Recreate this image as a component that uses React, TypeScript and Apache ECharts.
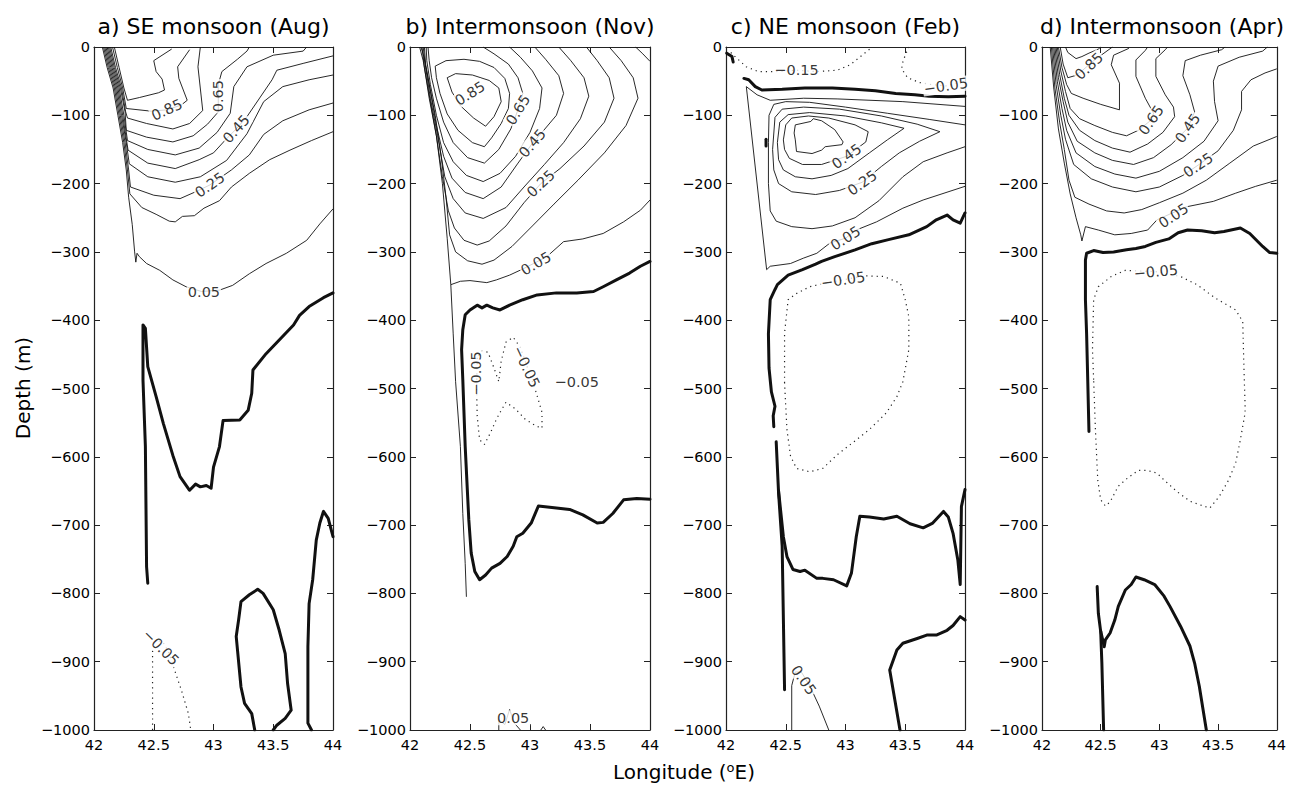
import React, { useEffect, useRef } from "react";
import * as echarts from "echarts";

type P = [number, number];

// ---------------- titles / ticks ----------------
const panelTitles = [
  "a) SE monsoon (Aug)",
  "b) Intermonsoon (Nov)",
  "c) NE monsoon (Feb)",
  "d) Intermonsoon (Apr)",
];
const lonMin = 42;
const lonMax = 44;
const lonStep = 0.5;
const depthMin = -1000;
const depthMax = 0;
const depthStep = 100;

// ---------------- panel a : SE monsoon (Aug) ----------------
const a095: P[] = [[42.17,0],[42.21,-30],[42.25,-60],[42.28,-78],[42.38,-74],[42.54,-67],[42.59,-63],[42.57,-47],[42.52,-36],[42.50,-20],[42.65,-3]];
const a085: P[] = [[42.155,0],[42.195,-30],[42.24,-60],[42.27,-90],[42.48,-94],[42.61,-92],[42.73,-85],[42.78,-78],[42.71,-46],[42.70,-29],[42.80,-4]];
const a075: P[] = [[42.14,0],[42.18,-30],[42.23,-60],[42.265,-95],[42.28,-104],[42.44,-112],[42.66,-120],[42.80,-112],[42.91,-93],[42.87,-29],[42.89,0]];
const a065: P[] = [[42.13,0],[42.17,-30],[42.22,-60],[42.26,-95],[42.27,-122],[42.44,-132],[42.66,-139],[42.83,-130],[42.95,-113],[43.04,-95],[43.04,-72],[43.04,-55],[43.07,-36],[43.20,-18],[43.28,-6],[43.30,0]];
const a055: P[] = [[42.12,0],[42.16,-30],[42.21,-60],[42.25,-100],[42.28,-137],[42.45,-150],[42.68,-158],[42.88,-148],[43.03,-125],[43.14,-97],[43.17,-58],[43.28,-29],[43.50,-12],[43.75,-6],[43.78,0]];
const a045: P[] = [[42.11,0],[42.15,-30],[42.20,-60],[42.24,-100],[42.285,-151],[42.45,-170],[42.68,-178],[42.88,-165],[43.00,-155],[43.10,-136],[43.19,-120],[43.28,-102],[43.49,-48],[43.53,-34],[43.75,-24],[44.0,-13]];
const a035: P[] = [[42.10,0],[42.14,-30],[42.19,-60],[42.23,-100],[42.27,-140],[42.295,-171],[42.45,-190],[42.68,-198],[42.89,-190],[43.11,-166],[43.28,-127],[43.42,-80],[43.58,-58],[43.80,-48],[44.0,-41]];
const a025: P[] = [[42.09,0],[42.13,-30],[42.18,-60],[42.22,-100],[42.26,-140],[42.29,-180],[42.305,-205],[42.50,-217],[42.72,-222],[42.85,-212],[42.97,-202],[43.15,-180],[43.30,-158],[43.42,-128],[43.58,-108],[43.80,-92],[44.0,-82]];
const a015: P[] = [[42.08,0],[42.12,-30],[42.17,-60],[42.21,-100],[42.25,-140],[42.28,-180],[42.30,-215],[42.40,-235],[42.52,-245],[42.63,-255],[42.68,-256],[42.74,-248],[42.84,-247],[42.92,-236],[43.05,-225],[43.15,-205],[43.30,-185],[43.47,-165],[43.64,-151],[43.82,-137],[44.0,-124]];
const a005: P[] = [[42.07,0],[42.11,-30],[42.16,-60],[42.20,-100],[42.24,-140],[42.27,-180],[42.29,-220],[42.32,-260],[42.34,-300],[42.35,-315],[42.36,-302],[42.38,-307],[42.44,-317],[42.55,-327],[42.66,-341],[42.77,-351],[42.90,-358],[43.05,-356],[43.16,-349],[43.30,-332],[43.44,-317],[43.61,-302],[43.78,-283],[43.89,-259],[44.0,-237]];
const aZero1: P[] = [[44.0,-360],[43.92,-367],[43.80,-380],[43.72,-393],[43.67,-407],[43.55,-429],[43.44,-449],[43.33,-473],[43.32,-507],[43.29,-532],[43.22,-546],[43.08,-547],[43.05,-585],[43.00,-615],[42.98,-646],[42.94,-642],[42.89,-644],[42.85,-640],[42.80,-649],[42.72,-629],[42.66,-598],[42.58,-551],[42.52,-512],[42.45,-468],[42.43,-412],[42.41,-407],[42.41,-444],[42.41,-488],[42.43,-585],[42.44,-761],[42.45,-785]];
const aZero2: P[] = [[43.345,-1000],[43.32,-976],[43.26,-961],[43.23,-937],[43.19,-863],[43.21,-839],[43.23,-812],[43.30,-802],[43.37,-794],[43.415,-800],[43.50,-824],[43.55,-854],[43.60,-888],[43.62,-932],[43.65,-971],[43.60,-983],[43.53,-993],[43.50,-1000]];
const aZero3: P[] = [[44.0,-717],[43.96,-690],[43.92,-680],[43.89,-697],[43.86,-722],[43.83,-780],[43.80,-815],[43.79,-878],[43.79,-990],[43.82,-1000]];
const aNeg1: P[] = [[42.49,-1000],[42.49,-927],[42.49,-885],[42.52,-868],[42.58,-872],[42.63,-888],[42.66,-905],[42.73,-941],[42.79,-976],[42.81,-1000]];
const aLabelText = ["0.85", "0.65", "0.45", "0.25", "0.05", "\u22120.05"];
const aLabelPos: P[] = [[42.61,-92],[43.04,-72],[43.19,-120],[42.97,-202],[42.92,-358],[42.56,-879]];
const aLabelRot = [24, 90, 48, 35, 0, -45];

// ---------------- panel b : Intermonsoon (Nov) ----------------
const b085: P[] = [[42.31,-45],[42.38,-39],[42.52,-41],[42.66,-49],[42.74,-60],[42.76,-80],[42.70,-102],[42.63,-116],[42.53,-104],[42.42,-86],[42.35,-66],[42.31,-45]];
const b075: P[] = [[42.21,-28],[42.30,-20],[42.45,-18],[42.58,-21],[42.70,-30],[42.79,-46],[42.83,-68],[42.82,-90],[42.76,-112],[42.68,-133],[42.62,-146],[42.52,-140],[42.40,-122],[42.31,-98],[42.25,-68],[42.22,-45],[42.21,-28]];
const b065: P[] = [[42.61,0],[42.70,-10],[42.82,-25],[42.90,-45],[42.94,-68],[42.90,-92],[42.84,-120],[42.74,-150],[42.62,-170],[42.48,-162],[42.36,-140],[42.28,-110],[42.22,-75],[42.18,-45],[42.16,-20],[42.15,0]];
const b055: P[] = [[42.83,0],[42.92,-15],[43.02,-35],[43.10,-60],[43.08,-90],[43.00,-125],[42.88,-160],[42.75,-185],[42.61,-197],[42.47,-188],[42.36,-168],[42.28,-140],[42.22,-100],[42.17,-55],[42.14,-20],[42.135,0]];
const b045: P[] = [[43.04,0],[43.13,-18],[43.24,-42],[43.28,-68],[43.22,-100],[43.10,-125],[43.02,-141],[42.90,-170],[42.76,-205],[42.61,-222],[42.46,-213],[42.35,-192],[42.28,-160],[42.22,-115],[42.17,-65],[42.13,-25],[42.12,0]];
const b035: P[] = [[43.24,0],[43.34,-20],[43.45,-45],[43.49,-72],[43.42,-105],[43.28,-140],[43.12,-172],[42.95,-205],[42.80,-235],[42.61,-251],[42.46,-243],[42.36,-222],[42.29,-190],[42.23,-130],[42.17,-75],[42.13,-30],[42.11,0]];
const b025: P[] = [[43.47,0],[43.56,-20],[43.66,-45],[43.70,-75],[43.62,-110],[43.45,-145],[43.25,-178],[43.09,-200],[42.95,-228],[42.80,-262],[42.66,-284],[42.56,-290],[42.45,-283],[42.37,-265],[42.32,-240],[42.27,-190],[42.22,-130],[42.16,-75],[42.12,-30],[42.10,0]];
const b015: P[] = [[43.66,0],[43.76,-20],[43.86,-45],[43.90,-75],[43.80,-115],[43.62,-155],[43.40,-195],[43.20,-230],[43.02,-262],[42.85,-292],[42.70,-312],[42.60,-318],[42.48,-313],[42.38,-300],[42.33,-275],[42.30,-220],[42.26,-160],[42.21,-100],[42.15,-45],[42.11,-10],[42.09,0]];
const b005: P[] = [[44.0,-224],[43.92,-239],[43.78,-256],[43.61,-273],[43.44,-281],[43.28,-285],[43.14,-307],[43.03,-317],[42.94,-325],[42.83,-334],[42.72,-341],[42.64,-345],[42.50,-342],[42.42,-343],[42.34,-348],[42.36,-420],[42.38,-490],[42.42,-585],[42.44,-683],[42.46,-756],[42.47,-805]];
const bSlope: P[] = [[42.34,-348],[42.31,-280],[42.27,-200],[42.22,-130],[42.16,-70],[42.11,-20],[42.08,0]];
const bCorner: P[] = [[43.88,0],[43.94,-10],[44.0,-21]];
const bBottom1: P[] = [[42.74,-1000],[42.74,-985],[42.79,-992],[42.83,-970],[42.87,-990],[42.92,-1000]];
const bBottom2: P[] = [[43.09,-1000],[43.11,-995],[43.13,-1000]];
const bZero1: P[] = [[44.0,-314],[43.92,-321],[43.83,-331],[43.72,-341],[43.61,-351],[43.53,-358],[43.39,-360],[43.22,-360],[43.06,-363],[42.94,-370],[42.83,-378],[42.75,-385],[42.69,-382],[42.64,-378],[42.60,-382],[42.56,-378],[42.50,-385],[42.46,-392],[42.44,-414],[42.43,-443],[42.44,-487],[42.46,-585],[42.49,-692],[42.51,-741],[42.54,-768],[42.58,-780],[42.63,-773],[42.68,-763],[42.75,-756],[42.81,-746],[42.86,-731],[42.89,-717],[42.94,-712],[43.01,-697],[43.07,-672],[43.22,-675],[43.33,-677],[43.44,-685],[43.56,-697],[43.61,-696],[43.69,-683],[43.78,-663],[43.89,-661],[44.0,-662]];
const bNeg1: P[] = [[42.56,-455],[42.555,-500],[42.56,-540],[42.58,-575],[42.62,-582],[42.67,-565],[42.72,-545],[42.76,-532],[42.80,-520],[42.88,-530],[42.96,-545],[43.05,-555],[43.10,-558],[43.10,-535],[43.05,-505],[42.98,-470],[42.92,-440],[42.86,-425],[42.80,-432],[42.76,-460],[42.74,-490],[42.70,-470],[42.65,-447],[42.60,-445],[42.56,-455]];
const bLabelText = ["0.85", "0.65", "0.45", "0.25", "0.05", "\u22120.05", "\u22120.05", "\u22120.05", "0.05"];
const bLabelPos: P[] = [[42.50,-68],[42.90,-92],[43.02,-141],[43.09,-200],[43.05,-317],[42.55,-478],[42.97,-468],[43.39,-490],[42.86,-982]];
const bLabelRot = [32, 58, 49, 43, 30, 90, -65, 0, 0];

// ---------------- panel c : NE monsoon (Feb) ----------------
const c055: P[] = [[42.57,-126],[42.58,-114],[42.71,-109],[42.73,-105],[42.80,-108],[42.91,-121],[42.98,-139],[42.97,-143],[42.83,-146],[42.80,-151],[42.72,-156],[42.59,-153],[42.58,-136],[42.57,-126]];
const c045: P[] = [[43.19,-124],[43.08,-114],[42.86,-104],[42.69,-101],[42.55,-104],[42.50,-114],[42.48,-136],[42.49,-150],[42.53,-163],[42.64,-172],[42.80,-172],[43.01,-160],[43.17,-139],[43.19,-124]];
const c035: P[] = [[43.49,-119],[43.30,-111],[43.0,-101],[42.70,-96],[42.52,-99],[42.45,-110],[42.43,-140],[42.44,-165],[42.48,-180],[42.58,-190],[42.72,-193],[42.88,-188],[43.02,-178],[43.20,-155],[43.35,-136],[43.49,-119]];
const c025: P[] = [[43.79,-124],[43.60,-113],[43.30,-101],[42.95,-91],[42.65,-88],[42.47,-91],[42.41,-103],[42.39,-150],[42.40,-180],[42.44,-200],[42.55,-212],[42.75,-216],[42.95,-210],[43.14,-198],[43.30,-175],[43.45,-155],[43.62,-138],[43.79,-124]];
const c015: P[] = [[44.0,-114],[43.70,-106],[43.35,-97],[43.0,-88],[42.70,-81],[42.50,-80],[42.40,-84],[42.36,-100],[42.355,-140],[42.355,-200],[42.37,-240],[42.42,-255],[42.55,-263],[42.72,-266],[42.89,-262],[43.08,-250],[43.28,-225],[43.48,-190],[43.65,-168],[43.85,-155],[44.0,-146]];
const c005: P[] = [[44.0,-87],[43.48,-80],[42.93,-76],[42.65,-75],[42.37,-78],[42.26,-70],[42.17,-58],[42.34,-326],[42.37,-321],[42.54,-317],[42.65,-309],[42.76,-302],[42.87,-287],[43.0,-280],[43.09,-268],[43.26,-256],[43.48,-236],[43.65,-224],[44.0,-204]];
const cBottom: P[] = [[42.55,-1000],[42.55,-935],[42.58,-915],[42.63,-915],[42.70,-935],[42.78,-965],[42.86,-1000]];
const cZero1: P[] = [[42.15,-46],[42.19,-48],[42.245,-58],[42.30,-63],[42.47,-62],[42.66,-60],[42.89,-60],[43.08,-62],[43.25,-64],[43.42,-68],[43.58,-70],[43.70,-72],[43.86,-73],[44.0,-72]];
const cZero2: P[] = [[42.006,-9],[42.05,-14],[42.06,-22]];
const cZero3: P[] = [[42.335,-135],[42.335,-145]];
const cZero4: P[] = [[44.0,-243],[43.96,-258],[43.90,-253],[43.85,-246],[43.76,-253],[43.68,-263],[43.53,-275],[43.36,-282],[43.22,-288],[43.08,-297],[42.91,-307],[42.80,-314],[42.75,-318],[42.64,-326],[42.52,-334],[42.43,-348],[42.41,-355],[42.37,-370],[42.355,-420],[42.36,-470],[42.38,-505],[42.41,-526],[42.395,-540],[42.40,-556]];
const cZero5: P[] = [[42.42,-578],[42.44,-653],[42.47,-731],[42.49,-941]];
const cZero6: P[] = [[42.44,-650],[42.48,-717],[42.51,-746],[42.56,-765],[42.62,-768],[42.66,-766],[42.76,-778],[42.81,-778],[42.90,-780],[43.01,-789],[43.05,-770],[43.09,-717],[43.12,-687],[43.20,-688],[43.32,-691],[43.43,-687],[43.54,-698],[43.65,-704],[43.73,-697],[43.82,-680],[43.86,-688],[43.90,-712],[43.94,-751],[43.96,-787],[43.97,-673],[44.0,-648]];
const cZero7: P[] = [[43.456,-1000],[43.37,-912],[43.43,-883],[43.48,-873],[43.60,-866],[43.68,-861],[43.76,-861],[43.85,-854],[43.90,-847],[43.96,-834],[44.0,-839]];
const cNeg015: P[] = [[42.04,-8],[42.075,-14],[42.17,-29],[42.27,-36],[42.42,-36],[42.59,-34],[42.76,-36],[42.93,-34],[43.04,-26],[43.14,-12],[43.21,-2]];
const cNegTop: P[] = [[43.53,0],[43.50,-12],[43.48,-22],[43.47,-32],[43.52,-45],[43.62,-52],[43.72,-55],[43.84,-57],[44.0,-50]];
const cNegLoop: P[] = [[42.49,-492],[42.49,-419],[42.52,-370],[42.59,-361],[42.70,-351],[42.85,-345],[42.98,-341],[43.15,-335],[43.32,-336],[43.46,-346],[43.50,-370],[43.53,-395],[43.53,-443],[43.48,-490],[43.43,-512],[43.34,-536],[43.20,-560],[43.07,-578],[42.93,-597],[42.81,-617],[42.70,-622],[42.59,-617],[42.54,-599],[42.51,-560],[42.49,-492]];
const cLabelText = ["\u22120.15", "\u22120.05", "0.45", "0.25", "0.05", "\u22120.05", "0.05"];
const cLabelPos: P[] = [[42.59,-34],[43.84,-57],[43.01,-160],[43.14,-199],[43.0,-280],[42.98,-341],[42.65,-927]];
const cLabelRot = [0, 8, 35, 35, 32, 8, -55];

// ---------------- panel d : Intermonsoon (Apr) ----------------
const d095: P[] = [[42.20,0],[42.22,-8],[42.29,-17],[42.34,-14],[42.40,-9],[42.48,-3],[42.50,0]];
const d085: P[] = [[42.155,0],[42.18,-25],[42.22,-45],[42.28,-42],[42.34,-35],[42.38,-29],[42.44,-20],[42.52,-10],[42.60,0]];
const d075: P[] = [[42.14,0],[42.17,-30],[42.21,-55],[42.25,-68],[42.35,-75],[42.50,-84],[42.66,-92],[42.66,-53],[42.59,-26],[42.61,-12],[42.74,-2]];
const d065: P[] = [[42.13,0],[42.16,-35],[42.20,-65],[42.24,-90],[42.32,-105],[42.45,-115],[42.60,-125],[42.72,-130],[42.82,-122],[42.93,-107],[42.95,-97],[42.88,-75],[42.80,-43],[42.80,-19],[42.88,-5],[42.90,0]];
const d055: P[] = [[42.12,0],[42.15,-40],[42.19,-75],[42.23,-100],[42.32,-122],[42.45,-137],[42.60,-148],[42.75,-154],[42.90,-142],[43.03,-125],[43.13,-102],[43.12,-88],[43.05,-70],[42.97,-43],[42.97,-17],[43.05,-4],[43.07,0]];
const d045: P[] = [[42.11,0],[42.14,-45],[42.18,-80],[42.22,-110],[42.30,-138],[42.45,-155],[42.60,-166],[42.78,-172],[42.95,-162],[43.10,-143],[43.24,-119],[43.30,-95],[43.26,-70],[43.20,-42],[43.22,-20],[43.35,-12],[43.53,-4],[43.56,0]];
const d035: P[] = [[42.10,0],[42.13,-50],[42.17,-90],[42.21,-122],[42.29,-155],[42.45,-175],[42.62,-186],[42.80,-192],[43.00,-182],[43.20,-162],[43.38,-138],[43.50,-108],[43.47,-80],[43.46,-50],[43.50,-28],[43.68,-15],[43.88,-6],[43.92,0]];
const d025: P[] = [[42.09,0],[42.12,-55],[42.16,-100],[42.20,-135],[42.27,-172],[42.42,-193],[42.60,-205],[42.80,-212],[43.00,-205],[43.20,-188],[43.33,-173],[43.50,-152],[43.63,-122],[43.70,-92],[43.70,-65],[43.78,-48],[43.90,-38],[44.0,-32]];
const d015: P[] = [[42.08,0],[42.11,-60],[42.15,-110],[42.19,-150],[42.23,-195],[42.28,-220],[42.40,-230],[42.55,-240],[42.70,-243],[42.85,-238],[43.00,-228],[43.20,-214],[43.40,-195],[43.60,-170],[43.80,-145],[44.0,-131]];
const d005: P[] = [[42.07,0],[42.10,-60],[42.14,-120],[42.19,-170],[42.24,-215],[42.29,-250],[42.33,-275],[42.34,-284],[42.37,-263],[42.48,-268],[42.62,-275],[42.76,-273],[42.90,-268],[42.98,-253],[43.11,-243],[43.23,-234],[43.46,-226],[43.65,-214],[43.82,-204],[44.0,-195]];
const dZero1: P[] = [[44.0,-302],[43.94,-301],[43.88,-292],[43.77,-273],[43.69,-265],[43.55,-270],[43.47,-272],[43.36,-269],[43.24,-268],[43.16,-272],[43.08,-281],[42.97,-286],[42.88,-292],[42.80,-295],[42.72,-297],[42.61,-300],[42.52,-301],[42.44,-298],[42.38,-302],[42.37,-312],[42.37,-370],[42.38,-420],[42.39,-490],[42.40,-563]];
const dZero2: P[] = [[42.47,-790],[42.48,-829],[42.50,-856],[42.51,-902],[42.525,-1000]];
const dZero3: P[] = [[42.50,-855],[42.53,-878],[42.54,-868],[42.58,-858],[42.62,-839],[42.65,-819],[42.71,-795],[42.76,-787],[42.80,-776],[42.87,-780],[42.96,-787],[43.04,-804],[43.09,-819],[43.18,-848],[43.26,-877],[43.30,-902],[43.34,-936],[43.40,-1000]];
const dNegLoop: P[] = [[42.44,-487],[42.43,-443],[42.44,-370],[42.48,-351],[42.59,-336],[42.71,-327],[42.97,-329],[43.18,-336],[43.32,-348],[43.48,-368],[43.65,-385],[43.71,-402],[43.72,-468],[43.73,-524],[43.73,-536],[43.69,-575],[43.65,-609],[43.59,-634],[43.51,-658],[43.43,-675],[43.34,-670],[43.26,-665],[43.15,-651],[43.04,-634],[42.98,-624],[42.90,-620],[42.82,-620],[42.73,-631],[42.65,-643],[42.58,-666],[42.54,-672],[42.50,-663],[42.475,-634],[42.455,-560],[42.44,-487]];
const dLabelText = ["0.85", "0.65", "0.45", "0.25", "0.05", "\u22120.05"];
const dLabelPos: P[] = [[42.40,-28],[42.93,-107],[43.24,-119],[43.33,-173],[43.12,-247],[42.97,-329]];
const dLabelRot = [43, 55, 55, 34, 33, 5];

// ---------------- layout ----------------
const gridLeft = [94, 410, 726, 1042];
const gridWidth = [239, 240, 239, 240];
const gridTop = 47;
const gridHeight = 683;

const FONT = "'DejaVu Sans', 'Liberation Sans', sans-serif";
const INK = "#000";

const panels = [
  {
    thin: [a095, a085, a075, a065, a055, a045, a035, a025, a015, a005],
    thick: [aZero1, aZero2, aZero3],
    dotted: [aNeg1],
    labels: { text: aLabelText, pos: aLabelPos, rot: aLabelRot },
  },
  {
    thin: [b085, b075, b065, b055, b045, b035, b025, b015, b005, bSlope, bCorner, bBottom1, bBottom2],
    thick: [bZero1],
    dotted: [bNeg1],
    labels: { text: bLabelText, pos: bLabelPos, rot: bLabelRot },
  },
  {
    thin: [c055, c045, c035, c025, c015, c005, cBottom],
    thick: [cZero1, cZero2, cZero3, cZero4, cZero5, cZero6, cZero7],
    dotted: [cNeg015, cNegTop, cNegLoop],
    labels: { text: cLabelText, pos: cLabelPos, rot: cLabelRot },
  },
  {
    thin: [d095, d085, d075, d065, d055, d045, d035, d025, d015, d005],
    thick: [dZero1, dZero2, dZero3],
    dotted: [dNegLoop],
    labels: { text: dLabelText, pos: dLabelPos, rot: dLabelRot },
  },
];

function lineSeries(data: P[], p: number, kind: "thin" | "thick" | "dot") {
  let lineStyle: any;
  if (kind === "thick") lineStyle = { color: "#111", width: 3, join: "round", cap: "round" };
  else if (kind === "thin") lineStyle = { color: "#111", width: 0.9 };
  else lineStyle = { color: "#222", width: 1.2, type: [1.2, 4] };
  return {
    type: "line",
    xAxisIndex: 2 * p,
    yAxisIndex: 2 * p,
    data,
    symbol: "none",
    showSymbol: false,
    silent: true,
    lineStyle,
    z: kind === "thick" ? 4 : 3,
  };
}

function labelSeries(p: number) {
  const l = panels[p].labels;
  return {
    type: "scatter",
    xAxisIndex: 2 * p,
    yAxisIndex: 2 * p,
    symbolSize: 1,
    silent: true,
    itemStyle: { color: "rgba(0,0,0,0)" },
    z: 10,
    data: l.text.map((t, i) => ({ name: t, value: l.pos[i], label: { rotate: l.rot[i] } })),
    label: {
      show: true,
      position: "inside",
      formatter: "{b}",
      fontSize: 14.5,
      fontFamily: FONT,
      color: INK,
      backgroundColor: "#fff",
      padding: [0, 1],
      align: "center",
      verticalAlign: "middle",
    },
  };
}

const yFmt = (v: number) => (v < 0 ? "\u2212" + String(-v) : String(v));

function buildOption() {
  const grid: any[] = [];
  const xAxis: any[] = [];
  const yAxis: any[] = [];
  const series: any[] = [];
  const axisLine = { onZero: false, lineStyle: { color: "#222", width: 1.2 } };
  const axisTick = { inside: true, length: 6, lineStyle: { color: "#222", width: 1 } };
  for (let p = 0; p < 4; p++) {
    grid.push({ left: gridLeft[p], top: gridTop, width: gridWidth[p], height: gridHeight, show: false });
    xAxis.push({
      type: "value", gridIndex: p, position: "bottom", min: lonMin, max: lonMax, interval: lonStep,
      axisLine, axisTick, splitLine: { show: false },
      axisLabel: { fontSize: 14.5, color: INK, fontFamily: FONT, margin: 7 },
    });
    xAxis.push({
      type: "value", gridIndex: p, position: "top", min: lonMin, max: lonMax, interval: lonStep,
      axisLine, axisTick, splitLine: { show: false }, axisLabel: { show: false },
    });
    yAxis.push({
      type: "value", gridIndex: p, position: "left", min: depthMin, max: depthMax, interval: depthStep,
      axisLine, axisTick, splitLine: { show: false },
      axisLabel: { fontSize: 14.5, color: INK, fontFamily: FONT, margin: 4, formatter: yFmt },
    });
    yAxis.push({
      type: "value", gridIndex: p, position: "right", min: depthMin, max: depthMax, interval: depthStep,
      axisLine, axisTick, splitLine: { show: false }, axisLabel: { show: false },
    });
    const pn = panels[p];
    pn.thin.forEach((d) => series.push(lineSeries(d, p, "thin")));
    pn.dotted.forEach((d) => series.push(lineSeries(d, p, "dot")));
    pn.thick.forEach((d) => series.push(lineSeries(d, p, "thick")));
    series.push(labelSeries(p));
  }
  const graphic: any[] = panelTitles.map((t, i) => ({
    type: "text",
    x: gridLeft[i] + gridWidth[i] / 2,
    y: 26,
    style: {
      text: t, fontSize: 22, fontFamily: FONT, fill: INK,
      textAlign: "center", textVerticalAlign: "middle", align: "center", verticalAlign: "middle",
    },
  }));
  graphic.push({
    type: "text", x: 23, y: 388, rotation: Math.PI / 2,
    style: {
      text: "Depth (m)", fontSize: 20, fontFamily: FONT, fill: INK,
      textAlign: "center", textVerticalAlign: "middle", align: "center", verticalAlign: "middle",
    },
  });
  graphic.push({
    type: "text", x: 684, y: 772,
    style: {
      text: "Longitude ({s|o}E)", fontSize: 20, fontFamily: FONT, fill: INK,
      textAlign: "center", textVerticalAlign: "middle", align: "center", verticalAlign: "middle",
      rich: { s: { fontSize: 13, fontFamily: FONT, verticalAlign: "top", lineHeight: 22 } },
    },
  });
  return { animation: false, backgroundColor: "#fff", textStyle: { fontFamily: FONT }, grid, xAxis, yAxis, series, graphic };
}

export default function App() {
  const ref = useRef<HTMLDivElement>(null);
  useEffect(() => {
    if (!ref.current) return;
    const chart = echarts.init(ref.current, null, { renderer: "svg" });
    chart.setOption(buildOption() as any);
    return () => chart.dispose();
  }, []);
  return (
    <div
      ref={ref}
      style={{ position: "fixed", left: 0, top: 0, width: "1289px", height: "785px", background: "#fff" }}
    />
  );
}
